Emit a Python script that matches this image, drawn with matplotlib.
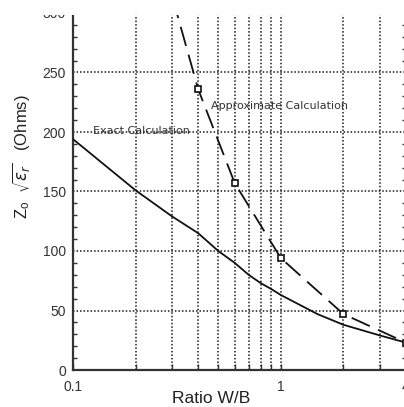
import matplotlib
matplotlib.use("Agg")
import matplotlib.pyplot as plt
from matplotlib import font_manager
from matplotlib.patches import Rectangle

# ---- data ----
x_exact = [0.1, 0.2, 0.3, 0.4, 0.5, 0.6, 0.7, 0.8, 0.9, 1.0, 1.5, 2.0, 3.0, 4.0]
z_exact = [194, 151, 129, 115, 100, 90, 80, 73, 68, 63, 47, 38, 29, 23]

x_approx = [0.3, 0.4, 0.6, 1.0, 2.0, 4.0]
z_approx = [314, 236, 157, 94, 47, 23]

x_ticks = [0.1, 0.2, 0.3, 0.4, 0.5, 0.6, 0.7, 0.8, 0.9, 1, 2, 3, 4]
x_ticklabels = ["0.1", "", "", "", "", "", "", "", "", "1", "", "", "4"]
y_ticks = [0, 50, 100, 150, 200, 250, 300]
y_ticklabels = ["0", "50", "100", "150", "200", "250", "300"]

# ---- fonts ----
names = {f.name for f in font_manager.fontManager.ttflist}
narrow = "Liberation Sans Narrow" if "Liberation Sans Narrow" in names else "Liberation Sans"

W, H = 404, 407
fig = plt.figure(figsize=(W / 100, H / 100), dpi=100)
ax = fig.add_axes([73 / W, (H - 370) / H, (406 - 73) / W, (370 - 13) / H])

ax.set_xscale("log")
ax.set_xlim(0.1, 4)
ax.set_ylim(0, 300)

ax.plot(x_exact, z_exact, color="#111111", lw=1.3, zorder=3)
ax.plot(x_approx, z_approx, color="#111111", lw=1.3, linestyle=(0, (11, 5)),
        marker="s", markersize=5, markerfacecolor="white", markeredgecolor="#111111",
        markeredgewidth=1.2, markevery=[1, 2, 3, 4, 5], zorder=3)

ax.set_xticks(x_ticks)
ax.set_xticklabels(x_ticklabels)
ax.xaxis.set_minor_locator(matplotlib.ticker.NullLocator())
ax.set_yticks(y_ticks)
ax.set_yticklabels(y_ticklabels)
ax.yaxis.set_minor_locator(matplotlib.ticker.MultipleLocator(10))

ax.tick_params(axis="both", which="both", direction="in", colors="#333333")
ax.tick_params(axis="x", which="major", length=4, width=1, pad=7, labelsize=10)
ax.tick_params(axis="y", which="major", length=0, pad=5, labelsize=10)
ax.tick_params(axis="y", which="minor", length=3, width=1, right=True)
for lab in ax.get_xticklabels() + ax.get_yticklabels():
    lab.set_fontfamily(narrow)
    lab.set_color("#333333")

ax.grid(True, which="major", color="#1a1a1a", linestyle=(0, (1, 1.3)), lw=1.1)
ax.yaxis.get_gridlines()[-1].set_visible(False)
ax.yaxis.get_gridlines()[0].set_visible(False)

for s in ["top", "right"]:
    ax.spines[s].set_visible(False)
for s in ["left", "bottom"]:
    ax.spines[s].set_color("#333333")
    ax.spines[s].set_linewidth(1.6)

ax.text(0.125, 201, "Exact Calculation", fontsize=8, color="#333333",
        family="DejaVu Sans", va="center", ha="left", zorder=4)
ax.text(0.46, 222, "Approximate Calculation", fontsize=8, color="#333333",
        family="DejaVu Sans", va="center", ha="left", zorder=4)

fig.text(211 / W, (H - 403) / H, "Ratio W/B", ha="center", va="baseline",
         fontsize=12.5, family=narrow, color="#222222")
fig.text(21.5 / W, (H - 157) / H,
         r"Z$\mathregular{_o}$  $\sqrt{\varepsilon_r}$   (Ohms)",
         rotation=90, ha="center", va="center", fontsize=12, family=narrow,
         color="#222222")

# white band at the very top (reference is blank there)
fig.add_artist(Rectangle((0, (H - 15) / H), 1, 15 / H, transform=fig.transFigure,
                         facecolor="white", edgecolor="none", zorder=10))

fig.savefig("out.png", dpi=100)
